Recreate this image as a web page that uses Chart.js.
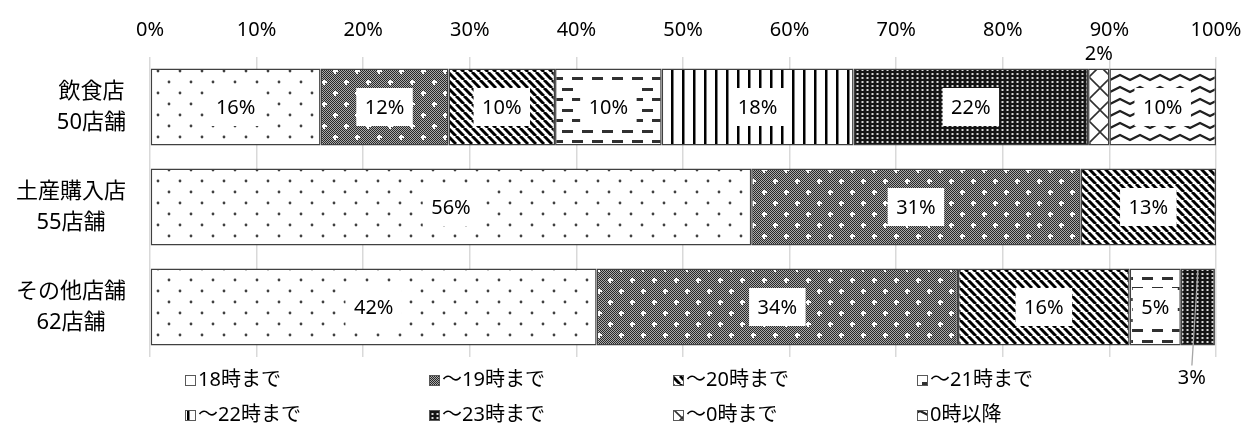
<!DOCTYPE html>
<html lang="ja">
<head>
<meta charset="utf-8">
<script src="https://cdn.jsdelivr.net/npm/chart.js@4/dist/chart.umd.min.js"></script>
<style>
  html, body { margin: 0; padding: 0; background: #fff; }
  canvas { display: block; }
</style>
</head>
<body>
<canvas id="chart" width="1252" height="433"></canvas>
<script>
document.addEventListener("DOMContentLoaded", function() {

// Data (percent of stores, by closing time)
const categories = [['飲食店', '50店舗'], ['土産購入店', '55店舗'], ['その他店舗', '62店舗']];
const seriesNames = ['18時まで', '～19時まで', '～20時まで', '～21時まで', '～22時まで', '～23時まで', '～0時まで', '0時以降'];
const until18 = [16, 56.4, 41.9];
const until19 = [12, 30.9, 33.9];
const until20 = [10, 12.7, 16.1];
const until21 = [10, 0, 4.8];
const until22 = [18, 0, 0];
const until23 = [22, 0, 3.2];
const until0 = [2, 0, 0];
const after0 = [10, 0, 0];
const xTicks = [0, 10, 20, 30, 40, 50, 60, 70, 80, 90, 100];

const FONT = '"Noto Sans", "Noto Sans CJK JP", sans-serif';
const canvas = document.getElementById('chart');
const mainCtx = canvas.getContext('2d');

// Hatch fills, like the Excel pattern fills
function makePattern(w, h, draw) {
  const c = document.createElement('canvas');
  c.width = w; c.height = h;
  const g = c.getContext('2d');
  g.fillStyle = '#fff';
  g.fillRect(0, 0, w, h);
  draw(g, w, h);
  return mainCtx.createPattern(c, 'repeat');
}

function pixelFill(g, w, h, fn) {
  const img = g.getImageData(0, 0, w, h);
  for (let y = 0; y < h; y++) {
    for (let x = 0; x < w; x++) {
      const v = fn(x, y);
      const k = (y * w + x) * 4;
      img.data[k] = img.data[k + 1] = img.data[k + 2] = v;
      img.data[k + 3] = 255;
    }
  }
  g.putImageData(img, 0, 0);
}

const patterns = [
  // 18時まで : sparse dots
  makePattern(22, 22, function(g) {
    g.fillStyle = '#404040';
    [[4, 5], [15, 16]].forEach(function(p) {
      g.beginPath(); g.arc(p[0], p[1], 1.4, 0, Math.PI * 2); g.fill();
    });
  }),
  // ～19時まで : dark checker with white crosses
  makePattern(22, 22, function(g, w, h) {
    pixelFill(g, w, h, function(x, y) { return (x + y) % 2 === 0 ? 40 : 170; });
    g.fillStyle = '#fff';
    [[5, 5], [16, 16]].forEach(function(p) {
      g.fillRect(p[0] - 2, p[1] - 1, 5, 2);
      g.fillRect(p[0] - 1, p[1] - 2, 2, 5);
    });
  }),
  // ～20時まで : wide diagonal stripes
  makePattern(8, 8, function(g) {
    g.strokeStyle = '#000';
    g.lineWidth = 3;
    for (let k = -8; k <= 8; k += 8) {
      g.beginPath(); g.moveTo(k, 0); g.lineTo(k + 8, 8); g.stroke();
    }
  }),
  // ～21時まで : dashed horizontal lines
  makePattern(20, 21, function(g) {
    g.fillStyle = '#303030';
    g.fillRect(2, 4, 11, 3);
    g.fillRect(12, 14, 8, 3);
    g.fillRect(0, 14, 3, 3);
  }),
  // ～22時まで : vertical lines
  makePattern(11, 4, function(g, w, h) {
    g.fillStyle = '#000';
    g.fillRect(0, 0, 2.5, h);
  }),
  // ～23時まで : black with small white dots
  makePattern(5, 4, function(g, w, h) {
    g.fillStyle = '#141414';
    g.fillRect(0, 0, w, h);
    g.fillStyle = '#d8d8d8';
    g.fillRect(1.5, 1, 2, 2);
  }),
  // ～0時まで : diagonal lattice
  makePattern(22, 22, function(g) {
    g.strokeStyle = '#303030';
    g.lineWidth = 1.6;
    g.beginPath(); g.moveTo(0, 0); g.lineTo(22, 22); g.stroke();
    g.beginPath(); g.moveTo(22, 0); g.lineTo(0, 22); g.stroke();
  }),
  // 0時以降 : waves
  makePattern(20, 12, function(g) {
    g.strokeStyle = '#202020';
    g.lineWidth = 2.4;
    g.lineJoin = 'round';
    g.beginPath();
    g.moveTo(-10, 3);
    for (let x = -10; x <= 30; x += 10) {
      g.lineTo(x + 10, (x / 10) % 2 === 0 ? 8 : 3);
    }
    g.stroke();
  })
];

const allSeries = [until18, until19, until20, until21, until22, until23, until0, after0];

const datasets = allSeries.map(function(values, i) {
  return {
    label: seriesNames[i],
    data: values.map(function(v) { return v === 0 ? null : v; }),
    backgroundColor: patterns[i],
    borderColor: '#404040',
    borderWidth: 1.5,
    borderSkipped: false,
    categoryPercentage: 0.77,
    barPercentage: 1.0
  };
});

// Percent labels on each segment (white boxes), small ones outside
const segmentLabels = {
  id: 'segmentLabels',
  afterDatasetsDraw(chart) {
    const ctx = chart.ctx;
    ctx.save();
    ctx.font = '20px ' + FONT;
    ctx.textAlign = 'center';
    ctx.textBaseline = 'middle';
    chart.data.datasets.forEach(function(ds, di) {
      chart.getDatasetMeta(di).data.forEach(function(bar, i) {
        const v = ds.data[i];
        if (!v) return;
        const text = Math.round(v) + '%';
        const tw = ctx.measureText(text).width;
        const c = bar.getCenterPoint();
        const segW = Math.abs(bar.x - bar.base);
        if (segW < tw + 8) {
          if (i === chart.data.labels.length - 1) {
            // below the bar, with a leader line
            const lx = c.x - 6;
            const ly = bar.y + bar.height / 2 + 33;
            ctx.strokeStyle = '#a6a6a6';
            ctx.lineWidth = 1.3;
            ctx.beginPath();
            ctx.moveTo(c.x, bar.y - bar.height / 2 + 2);
            ctx.lineTo(lx, ly - 13);
            ctx.stroke();
            ctx.fillStyle = '#000';
            ctx.fillText(text, lx, ly);
          } else {
            ctx.fillStyle = '#000';
            ctx.fillText(text, c.x, bar.y - bar.height / 2 - 14);
          }
          return;
        }
        const bw = tw + 17, bh = 38;
        ctx.fillStyle = '#fff';
        ctx.fillRect(c.x - bw / 2, c.y - bh / 2, bw, bh);
        ctx.fillStyle = '#000';
        ctx.fillText(text, c.x, c.y + 1);
      });
    });
    ctx.restore();
  }
};

// Two-line category labels, centred within a right-aligned block
const categoryLabels = {
  id: 'categoryLabels',
  afterDraw(chart) {
    const ctx = chart.ctx;
    const yScale = chart.scales.y;
    ctx.save();
    ctx.font = '22px ' + FONT;
    ctx.fillStyle = '#000';
    ctx.textAlign = 'center';
    ctx.textBaseline = 'middle';
    const right = chart.chartArea.left - 24;
    categories.forEach(function(lines, i) {
      const w = Math.max.apply(null, lines.map(function(t) { return ctx.measureText(t).width; }));
      const cy = yScale.getPixelForTick(i);
      lines.forEach(function(t, k) {
        ctx.fillText(t, right - w / 2, cy + (k - (lines.length - 1) / 2) * 31);
      });
    });
    ctx.restore();
  }
};

// Legend: 4 columns x 2 rows under the plot
const gridLegend = {
  id: 'gridLegend',
  afterDraw(chart) {
    const ctx = chart.ctx;
    ctx.save();
    ctx.font = '20px ' + FONT;
    ctx.fillStyle = '#000';
    ctx.textBaseline = 'middle';
    ctx.textAlign = 'left';
    const colX = 185, colW = 244;
    const rowY = [chart.chartArea.bottom + 23, chart.chartArea.bottom + 58];
    chart.data.datasets.forEach(function(ds, i) {
      const x = colX + (i % 4) * colW;
      const y = rowY[Math.floor(i / 4)];
      ctx.fillStyle = ds.backgroundColor;
      ctx.fillRect(x, y - 5, 10, 10);
      ctx.strokeStyle = '#595959';
      ctx.lineWidth = 1;
      ctx.strokeRect(x + 0.5, y - 4.5, 10, 10);
      ctx.fillStyle = '#000';
      ctx.fillText(ds.label, x + 13, y);
    });
    ctx.restore();
  }
};

new Chart(canvas, {
  type: 'bar',
  data: {
    labels: categories,
    datasets: datasets
  },
  options: {
    indexAxis: 'y',
    responsive: false,
    animation: false,
    devicePixelRatio: 1,
    layout: {
      padding: { top: 0, left: 0, right: 36, bottom: 76 }
    },
    scales: {
      x: {
        position: 'top',
        stacked: true,
        min: 0,
        max: 100,
        afterBuildTicks: function(scale) {
          scale.ticks = xTicks.map(function(v) { return { value: v }; });
        },
        afterFit: function(scale) {
          scale.height = 57;
          scale.paddingLeft = 0;
          scale.paddingRight = 0;
        },
        grid: { color: '#d9d9d9', lineWidth: 1.5, drawTicks: false },
        border: { display: false },
        ticks: {
          padding: 15,
          color: '#000',
          font: { family: FONT, size: 20 },
          callback: function(v) { return v + '%'; }
        }
      },
      y: {
        stacked: true,
        afterFit: function(scale) { scale.width = 150; },
        grid: { display: false },
        border: { display: false },
        ticks: { display: false }
      }
    },
    plugins: {
      legend: { display: false },
      tooltip: { enabled: false }
    }
  },
  plugins: [segmentLabels, categoryLabels, gridLegend]
});

});
</script>
</body>
</html>
